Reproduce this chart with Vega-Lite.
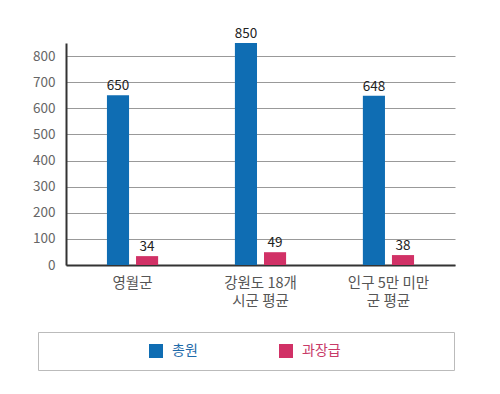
{
  "$schema": "https://vega.github.io/schema/vega-lite/v6.json",
  "width": 389,
  "height": 222,
  "autosize": {"type": "none"},
  "padding": {"left": 66, "top": 43, "right": 45, "bottom": 129},
  "background": "white",
  "config": {
    "font": "Noto Sans CJK KR",
    "view": {"stroke": null}
  },
  "data": {
    "values": [
      {"region": "영월군", "series": "총원", "value": 650},
      {"region": "영월군", "series": "과장급", "value": 34},
      {"region": "강원도 18개 시군 평균", "series": "총원", "value": 850},
      {"region": "강원도 18개 시군 평균", "series": "과장급", "value": 49},
      {"region": "인구 5만 미만 군 평균", "series": "총원", "value": 648},
      {"region": "인구 5만 미만 군 평균", "series": "과장급", "value": 38}
    ]
  },
  "encoding": {
    "x": {
      "field": "region",
      "type": "nominal",
      "sort": null,
      "scale": {"paddingInner": 0.6, "paddingOuter": 0.32},
      "axis": {
        "title": null,
        "labelAngle": 0,
        "labelFontSize": 14.5,
        "labelColor": "#555555",
        "labelPadding": 11,
        "labelLineHeight": 18,
        "ticks": false,
        "domainColor": "#333333",
        "domainWidth": 2,
        "labelExpr": "datum.label === '강원도 18개 시군 평균' ? ['강원도 18개', '시군 평균'] : datum.label === '인구 5만 미만 군 평균' ? ['인구 5만 미만', '군 평균'] : datum.label"
      }
    },
    "xOffset": {
      "field": "series",
      "type": "nominal",
      "sort": ["총원", "과장급"],
      "scale": {"paddingInner": 0.24, "paddingOuter": 0}
    },
    "y": {
      "field": "value",
      "type": "quantitative",
      "scale": {"domain": [0, 850], "nice": false},
      "axis": {
        "title": null,
        "values": [0, 100, 200, 300, 400, 500, 600, 700, 800],
        "labelFontSize": 13.5,
        "labelColor": "#666666",
        "labelPadding": 11,
        "ticks": false,
        "domainColor": "#333333",
        "domainWidth": 2,
        "gridColor": "#999999",
        "gridWidth": 1
      }
    }
  },
  "layer": [
    {
      "mark": {"type": "bar"},
      "encoding": {
        "color": {
          "field": "series",
          "type": "nominal",
          "scale": {"domain": ["총원", "과장급"], "range": ["#0f6db3", "#d13166"]},
          "legend": {
            "title": "\u00a0",
            "titleOrient": "left",
            "titleFontSize": 1,
            "titlePadding": 99,
            "orient": "none",
            "legendX": -28,
            "legendY": 289,
            "direction": "horizontal",
            "strokeColor": "#bbbbbb",
            "padding": 12,
            "symbolType": "square",
            "symbolSize": 196,
            "symbolStrokeWidth": 0,
            "labelFontSize": 14,
            "labelOffset": 9,
            "columnPadding": 81,
            "encode": {
              "labels": {"update": {"fill": {"signal": "datum.label === '총원' ? '#1d6aaa' : '#c83a68'"}}},
              "symbols": {"update": {"shape": {"signal": "datum.index === 1 ? 'M-1,-1H1V1H-1Z M22.2,0' : 'square'"}}}
            }
          }
        }
      }
    },
    {
      "mark": {"type": "text", "baseline": "bottom", "dy": -2, "fontSize": 13.5, "color": "#222222"},
      "encoding": {
        "text": {"field": "value", "type": "quantitative"}
      }
    }
  ]
}
